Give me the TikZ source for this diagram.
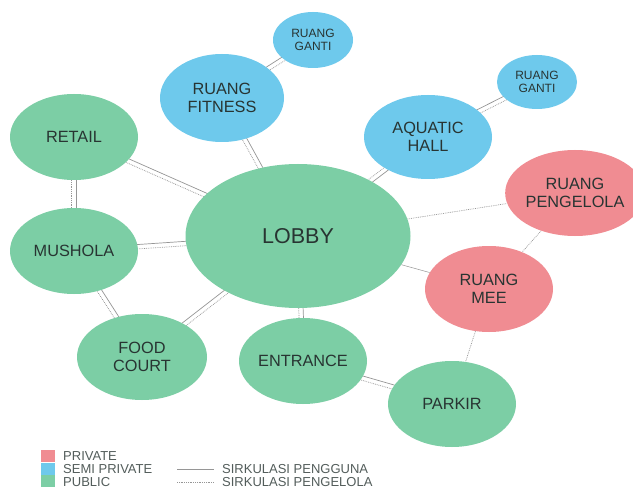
\documentclass[tikz,border=0pt]{standalone}
\usepackage{fontspec}
\setmainfont{Liberation Sans}
\usetikzlibrary{shapes.geometric,calc,backgrounds}
\definecolor{pubgreen}{RGB}{124,206,165}
\definecolor{semiblue}{RGB}{110,201,236}
\definecolor{privpink}{RGB}{240,140,146}
\definecolor{txtdark}{RGB}{40,52,50}
\definecolor{linkgray}{RGB}{150,150,150}
\tikzset{
  bubble/.style={ellipse, draw=none, inner sep=0pt, align=center, text=txtdark,
    font=\fontsize{16.3}{18}\selectfont},
  pub/.style={bubble, fill=pubgreen},
  semi/.style={bubble, fill=semiblue},
  priv/.style={bubble, fill=privpink},
  sz/.style 2 args={minimum width=#1pt, minimum height=#2pt},
  solidlink/.style={draw=linkgray, line width=0.7pt},
  dotlink/.style={draw=linkgray, line width=0.7pt, dash pattern=on 0.8pt off 1pt},
  legtext/.style={anchor=base west, inner sep=0pt, text=txtdark!80, font=\fontsize{13}{14}\selectfont},
}
\newcommand\duallink[2]{%
  \draw[solidlink] ($(#1.center)!2.2pt!90:(#2.center)$) -- ($(#2.center)!2.2pt!-90:(#1.center)$);
  \draw[dotlink] ($(#1.center)!2.2pt!-90:(#2.center)$) -- ($(#2.center)!2.2pt!90:(#1.center)$);}
\begin{document}
\begin{tikzpicture}[x=1pt,y=-1pt]
\useasboundingbox (0,0) rectangle (633,487);
\clip (0,0) rectangle (633,487);
% nodes
\node[pub, sz={225}{144}, font=\fontsize{21.5}{23}\selectfont] (lobby) at (298,236) {LOBBY};
\node[semi, sz={124}{88}] (fitness) at (222,98) {RUANG\\FITNESS};
\node[semi, sz={80}{56}, font=\fontsize{12}{13.5}\selectfont] (ganti1) at (313,40) {RUANG\\GANTI};
\node[semi, sz={128}{84}] (aquatic) at (428,137) {AQUATIC\\HALL};
\node[semi, sz={80}{54}, font=\fontsize{12}{13.5}\selectfont] (ganti2) at (537,82) {RUANG\\GANTI};
\node[priv, sz={122}{86}] (pengelola) at (575,193) {RUANG\\PENGELOLA};
\node[priv, sz={128}{86}] (mee) at (489,289) {RUANG\\MEE};
\node[pub, sz={128}{86}] (parkir) at (452,404) {PARKIR};
\node[pub, sz={128}{86}] (entrance) at (303,361) {ENTRANCE};
\node[pub, sz={130}{86}] (food) at (142,357) {FOOD\\COURT};
\node[pub, sz={128}{86}] (mushola) at (74,251) {MUSHOLA};
\node[pub, sz={128}{86}] (retail) at (74,137) {RETAIL};
% connectors
\begin{scope}[on background layer]
\fill[white] (0,0) rectangle (633,487);
\duallink{fitness}{ganti1}
\duallink{fitness}{lobby}
\duallink{aquatic}{ganti2}
\duallink{aquatic}{lobby}
\duallink{retail}{lobby}
\duallink{retail}{mushola}
\duallink{mushola}{lobby}
\duallink{mushola}{food}
\duallink{food}{lobby}
\duallink{lobby}{entrance}
\duallink{entrance}{parkir}
\draw[dotlink] (lobby) -- (pengelola);
\draw[solidlink, line width=0.5pt] (lobby) -- (mee);
\draw[dotlink] (pengelola) -- (mee);
\draw[dotlink] (mee) -- (parkir);
\end{scope}
% legend
\node[fill=privpink, minimum width=14pt, minimum height=12pt, inner sep=0pt] (kpriv) at (48,456) {};
\node[fill=semiblue, minimum width=14pt, minimum height=12pt, inner sep=0pt] (ksemi) at (48,468.5) {};
\node[fill=pubgreen, minimum width=14pt, minimum height=12pt, inner sep=0pt] (kpub) at (48,481) {};
\node[legtext] (lpriv) at (63,460.5) {PRIVATE};
\node[legtext] (lsemi) at (63,473) {SEMI PRIVATE};
\node[legtext] (lpub) at (63,486) {PUBLIC};
\coordinate (s1) at (177,469);
\coordinate (s2) at (214,469);
\coordinate (d1) at (177,482);
\coordinate (d2) at (214,482);
\draw[solidlink] (s1) -- (s2);
\draw[dotlink] (d1) -- (d2);
\node[legtext] (lpg) at (222,473) {SIRKULASI PENGGUNA};
\node[legtext] (lpl) at (222,486) {SIRKULASI PENGELOLA};
\end{tikzpicture}
\end{document}
